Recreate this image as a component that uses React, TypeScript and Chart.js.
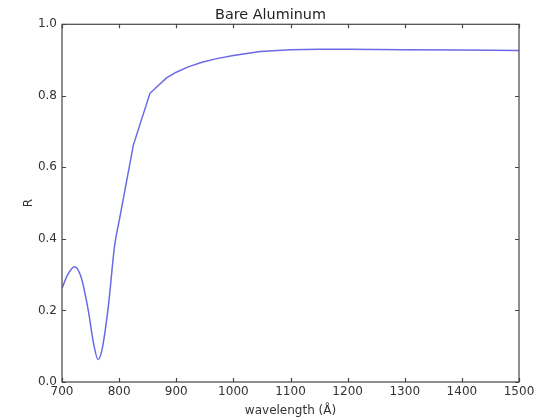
import React, { useEffect, useRef } from "react";
import { Chart, registerables } from "chart.js";

Chart.register(...registerables);

const chartTitle = "Bare Aluminum";
const xTitle = "wavelength (Å)";
const yTitle = "R";

// smooth dip region
const dipWavelengths = [700, 710, 722, 734, 746, 755, 763, 770, 781, 792, 800];
const dipReflectance = [0.262, 0.3, 0.322, 0.29, 0.2, 0.11, 0.063, 0.09, 0.21, 0.38, 0.45];
// rising edge and plateau
const riseWavelengths = [800, 825, 854, 883, 900, 921, 945, 971, 1000, 1047, 1100, 1150, 1200, 1300, 1400, 1500];
const riseReflectance = [0.45, 0.663, 0.807, 0.85, 0.866, 0.881, 0.894, 0.904, 0.913, 0.924, 0.929, 0.93, 0.93, 0.929, 0.928, 0.927];

const xTicks = [700, 800, 900, 1000, 1100, 1200, 1300, 1400, 1500];
const yTicks = [0, 0.2, 0.4, 0.6, 0.8, 1.0];

const FONT = "'DejaVu Sans', sans-serif";
const TEXT = "#333333";
const FRAME = "#444444";
const LINE = "rgba(90, 90, 225, 0.9)";

const frameTicks = {
  id: "frameTicks",
  afterDatasetsDraw(chart: any) {
    const { ctx, chartArea: a, scales } = chart;
    ctx.save();
    ctx.strokeStyle = FRAME;
    ctx.lineWidth = 1.2;
    ctx.strokeRect(a.left, a.top, a.right - a.left, a.bottom - a.top);
    const len = 4;
    ctx.beginPath();
    for (const v of xTicks) {
      const px = Math.round(scales.x.getPixelForValue(v)) + 0.5;
      ctx.moveTo(px, a.bottom);
      ctx.lineTo(px, a.bottom - len);
      ctx.moveTo(px, a.top);
      ctx.lineTo(px, a.top + len);
    }
    for (const v of yTicks) {
      const py = Math.round(scales.y.getPixelForValue(v)) + 0.5;
      ctx.moveTo(a.left, py);
      ctx.lineTo(a.left + len, py);
      ctx.moveTo(a.right, py);
      ctx.lineTo(a.right - len, py);
    }
    ctx.stroke();
    ctx.restore();
  },
};

export default function App() {
  const ref = useRef<HTMLCanvasElement | null>(null);

  useEffect(() => {
    if (!ref.current) return;
    const dip = dipWavelengths.map((x, i) => ({ x, y: dipReflectance[i] }));
    const rise = riseWavelengths.map((x, i) => ({ x, y: riseReflectance[i] }));
    const chart = new Chart(ref.current, {
      type: "line",
      data: {
        datasets: [
          {
            data: dip,
            borderColor: LINE,
            borderWidth: 1.5,
            pointRadius: 0,
            fill: false,
            cubicInterpolationMode: "monotone",
          },
          {
            data: rise,
            borderColor: LINE,
            borderWidth: 1.5,
            pointRadius: 0,
            fill: false,
            tension: 0,
          },
        ],
      },
      options: {
        responsive: false,
        animation: false,
        layout: { padding: { left: 22, right: 24, top: 0, bottom: 0 } },
        plugins: {
          legend: { display: false },
          tooltip: { enabled: false },
          title: {
            display: true,
            text: chartTitle,
            color: "#222222",
            font: { family: FONT, size: 14.4, weight: "normal" },
            padding: { top: 7, bottom: 0 },
          },
        },
        scales: {
          x: {
            type: "linear",
            min: 700,
            max: 1500,
            afterBuildTicks: (s: any) => {
              s.ticks = xTicks.map((v) => ({ value: v }));
            },
            grid: { display: false, drawTicks: false },
            border: { display: false },
            ticks: {
              color: TEXT,
              padding: 3,
              maxRotation: 0,
              font: { family: FONT, size: 12 },
              callback: (v: any) => String(v),
            },
            title: {
              display: true,
              text: xTitle,
              color: TEXT,
              font: { family: FONT, size: 12 },
              padding: { top: 0, bottom: 1 },
            },
            afterFit: (s: any) => {
              s.height = 37;
            },
          },
          y: {
            type: "linear",
            min: 0,
            max: 1,
            afterBuildTicks: (s: any) => {
              s.ticks = yTicks.map((v) => ({ value: v }));
            },
            grid: { display: false, drawTicks: false },
            border: { display: false },
            ticks: {
              color: TEXT,
              padding: 5,
              font: { family: FONT, size: 12 },
              callback: (v: any) => Number(v).toFixed(1),
            },
            title: {
              display: true,
              text: yTitle,
              color: TEXT,
              font: { family: FONT, size: 12 },
              padding: { top: 0, bottom: 0 },
            },
            afterFit: (s: any) => {
              s.width = 40;
            },
          },
        },
      },
      plugins: [frameTicks],
    });
    return () => chart.destroy();
  }, []);

  return (
    <div
      style={{
        position: "fixed",
        left: 0,
        top: 0,
        width: 543,
        height: 419,
        background: "#ffffff",
      }}
    >
      <canvas ref={ref} width={543} height={419} />
    </div>
  );
}
